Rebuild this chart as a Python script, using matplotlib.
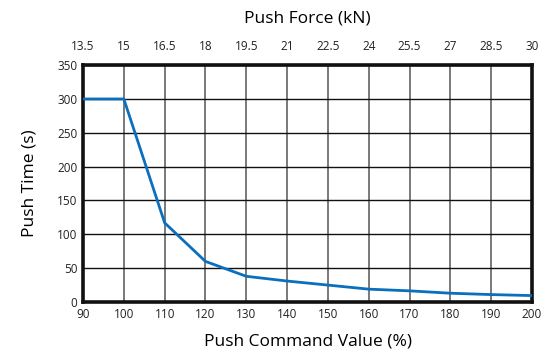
import matplotlib
matplotlib.use("Agg")
import matplotlib.pyplot as plt

# Data
command_pct = [90, 100, 110, 120, 130, 140, 150, 160, 170, 180, 190, 200]
push_time_s = [300, 300, 117, 60, 38, 31, 25, 19, 16.5, 13, 11, 9.5]
force_ticks = ["13.5", "15", "16.5", "18", "19.5", "21", "22.5", "24", "25.5", "27", "28.5", "30"]
y_ticks = [0, 50, 100, 150, 200, 250, 300, 350]

plt.rcParams["font.family"] = ["Open Sans", "DejaVu Sans"]

fig = plt.figure(figsize=(5.44, 3.52), dpi=100)
ax = fig.add_axes([0.1526, 0.142, 0.978 - 0.1526, 0.815 - 0.142])

ax.plot(command_pct, push_time_s, color="#0a6fbd", linewidth=2.0, zorder=3)

ax.set_xlim(90, 200)
ax.set_ylim(0, 350)
ax.set_xticks(command_pct)
ax.set_yticks(y_ticks)
ax.tick_params(length=0, labelsize=8.5, pad=4, colors="#222222")
ax.grid(axis="x", color="#555555", linewidth=1.1)
ax.grid(axis="y", color="#111111", linewidth=1.0)
for s in ax.spines.values():
    s.set_linewidth(2.6)
    s.set_color("#111111")
ax.set_xlabel("Push Command Value (%)", fontsize=12.5, labelpad=9)
ax.set_ylabel("Push Time (s)", fontsize=12.5, labelpad=14)

top = ax.twiny()
top.set_xlim(ax.get_xlim())
top.set_xticks(command_pct)
top.set_xticklabels(force_ticks)
top.tick_params(length=0, labelsize=8.5, pad=9, colors="#222222")
top.set_xlabel("Push Force (kN)", fontsize=12.5, labelpad=12)
for s in top.spines.values():
    s.set_visible(False)

fig.savefig("out.png", dpi=100)
